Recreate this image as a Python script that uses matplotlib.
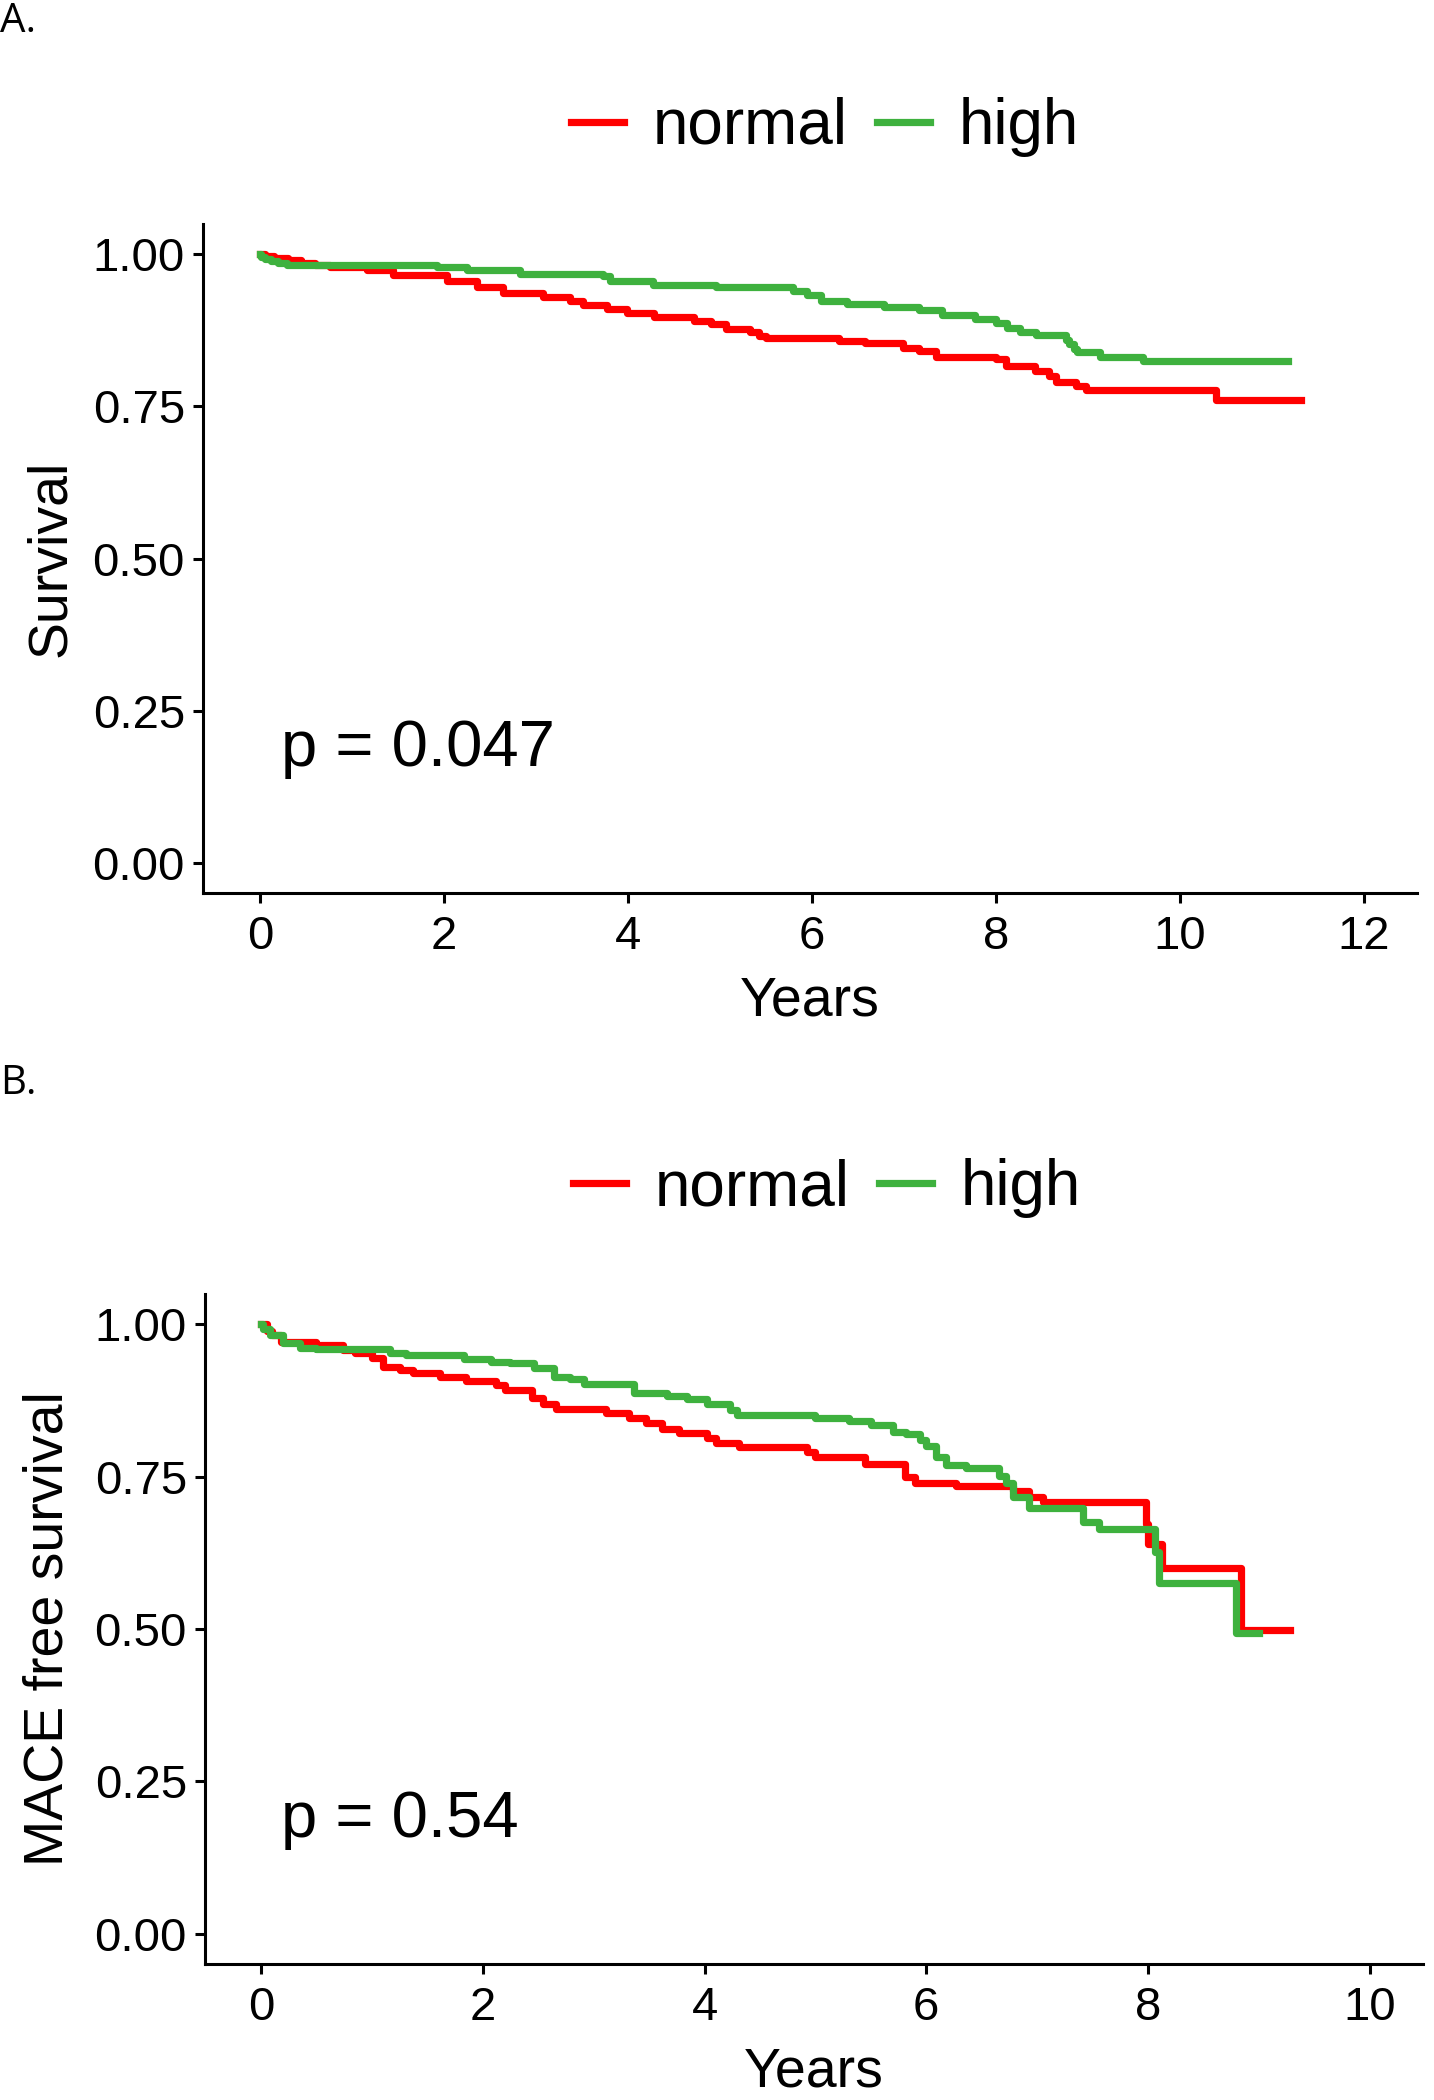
import matplotlib
matplotlib.use('Agg')
import matplotlib.pyplot as plt

plt.rcParams['font.family'] = ['Liberation Sans', 'DejaVu Sans']

# Panel A: overall survival, step points (time in years, survival after step)
a_normal_t = [0, 0.05, 0.15, 0.3, 0.45, 0.6, 0.76, 1.16, 1.45, 2.03, 2.36, 2.64, 3.08, 3.37,
              3.51, 3.77, 3.99, 4.28, 4.72, 4.9, 5.07, 5.33, 5.43, 5.5, 6.3, 6.58, 6.99, 7.17,
              7.35, 8.0, 8.11, 8.43, 8.58, 8.65, 8.87, 8.98, 10.39]
a_normal_s = [1.0, 0.997, 0.994, 0.99, 0.986, 0.983, 0.979, 0.974, 0.966, 0.957, 0.946, 0.936, 0.930, 0.924,
              0.917, 0.911, 0.904, 0.897, 0.891, 0.886, 0.878, 0.873, 0.866, 0.862, 0.858, 0.854, 0.846, 0.842,
              0.832, 0.828, 0.816, 0.808, 0.800, 0.791, 0.784, 0.777, 0.761]
a_normal_end = 11.32

a_high_t = [0, 0.01, 0.05, 0.12, 0.2, 0.29, 1.92, 2.25, 2.83, 3.73, 3.8, 4.27, 4.96, 5.8, 5.95,
            6.1, 6.38, 6.78, 7.17, 7.41, 7.77, 8.0, 8.12, 8.26, 8.44, 8.76, 8.8, 8.85, 8.88, 9.13, 9.6]
a_high_s = [1.0, 0.995, 0.992, 0.989, 0.986, 0.982, 0.979, 0.975, 0.967, 0.964, 0.957, 0.950, 0.946, 0.940, 0.934,
            0.924, 0.918, 0.913, 0.909, 0.900, 0.894, 0.887, 0.879, 0.873, 0.867, 0.860, 0.852, 0.845, 0.840, 0.832, 0.824]
a_high_end = 11.18

# Panel B: MACE free survival
b_normal_t = [0, 0.05, 0.1, 0.18, 0.5, 0.74, 0.85, 1.0, 1.1, 1.25, 1.37, 1.61, 1.85, 2.12, 2.2, 2.44,
              2.54, 2.66, 3.11, 3.32, 3.47, 3.62, 3.77, 4.02, 4.1, 4.31, 4.92, 5.0, 5.45, 5.81, 5.9,
              6.27, 6.78, 6.93, 7.05, 7.98, 8.0, 8.13, 8.84]
b_normal_s = [1.0, 0.99, 0.982, 0.971, 0.966, 0.958, 0.953, 0.945, 0.930, 0.925, 0.920, 0.914, 0.907, 0.900, 0.893, 0.880,
              0.870, 0.861, 0.854, 0.846, 0.838, 0.829, 0.821, 0.813, 0.806, 0.798, 0.790, 0.783, 0.771, 0.750, 0.740,
              0.734, 0.727, 0.717, 0.708, 0.673, 0.640, 0.600, 0.499]
b_normal_end = 9.28

b_high_t = [0, 0.02, 0.08, 0.2, 0.35, 0.5, 1.16, 1.31, 1.83, 2.07, 2.25, 2.46, 2.64, 2.79, 2.91, 3.36,
            3.66, 3.84, 4.02, 4.23, 4.29, 5.0, 5.3, 5.5, 5.7, 5.82, 5.94, 6.0, 6.09, 6.18, 6.36, 6.66,
            6.72, 6.78, 6.93, 7.41, 7.56, 8.06, 8.1, 8.79]
b_high_s = [1.0, 0.993, 0.982, 0.969, 0.962, 0.959, 0.953, 0.950, 0.944, 0.939, 0.936, 0.928, 0.914, 0.910, 0.902, 0.887,
            0.883, 0.877, 0.869, 0.860, 0.851, 0.846, 0.841, 0.835, 0.824, 0.820, 0.810, 0.800, 0.783, 0.769, 0.764, 0.752,
            0.740, 0.717, 0.698, 0.676, 0.665, 0.627, 0.575, 0.493]
b_high_end = 9.0

groups = ['normal', 'high']
colors = ['#FF0000', '#3EB13E']
yticks = [0, 0.25, 0.5, 0.75, 1.0]

fig = plt.figure(figsize=(14.34, 21), dpi=100)
W, H = 1434, 2100


def km_panel(rect, curves, xlim, xticks, ylabel, ptext, ylabel_x, legend_xy):
    ax = fig.add_axes(rect)
    lines = []
    for (t, s, end), name, col in zip(curves, groups, colors):
        ln, = ax.step(t + [end], s + [s[-1]], where='post', color=col, lw=5.2, label=name)
        lines.append(ln)
    ax.set_xlim(*xlim)
    ax.set_ylim(-0.05, 1.05)
    ax.set_xticks(xticks)
    ax.set_yticks(yticks)
    ax.set_yticklabels(['%.2f' % v for v in yticks])
    for side in ['top', 'right']:
        ax.spines[side].set_visible(False)
    for side in ['left', 'bottom']:
        ax.spines[side].set_linewidth(2.2)
    ax.tick_params(length=7, width=2.2, labelsize=34, pad=6, colors='black')
    ax.tick_params(axis='x', pad=9)
    ax.set_xlabel('Years', fontsize=40)
    ax.xaxis.set_label_coords(0.5, -0.123)
    ax.xaxis.label.set_va('top')
    ax.set_ylabel(ylabel, fontsize=40)
    ax.yaxis.set_label_coords(ylabel_x, 0.5)
    ax.text(ptext[0], ptext[1], ptext[2], fontsize=47, ha='left', va='baseline')
    ax.legend(handles=lines, ncol=2, loc='center', bbox_to_anchor=legend_xy,
              bbox_transform=fig.transFigure, frameon=False, fontsize=46,
              handlelength=0.83, handletextpad=0.45, columnspacing=0.45)
    return ax


km_panel([203 / W, 1 - 893 / H, (1417 - 203) / W, 669 / H],
         [(a_normal_t, a_normal_s, a_normal_end), (a_high_t, a_high_s, a_high_end)],
         (-0.62, 12.58), [0, 2, 4, 6, 8, 10, 12], 'Survival',
         (0.23, 0.158, 'p = 0.047'), -0.104, (825 / W, 1 - 127 / H))

km_panel([205 / W, 1 - 1964 / H, (1423 - 205) / W, 670 / H],
         [(b_normal_t, b_normal_s, b_normal_end), (b_high_t, b_high_s, b_high_end)],
         (-0.505, 10.48), [0, 2, 4, 6, 8, 10], 'MACE free survival',
         (0.18, 0.158, 'p = 0.54'), -0.107, (827 / W, 1 - 1188 / H))

fig.text(0.0, 1 - 32 / H, 'A.', fontsize=29, family='Open Sans', va='baseline')
fig.text(0.0, 1 - 1094 / H, 'B.', fontsize=29, family='Open Sans', va='baseline')

fig.savefig('out.png', dpi=100)
